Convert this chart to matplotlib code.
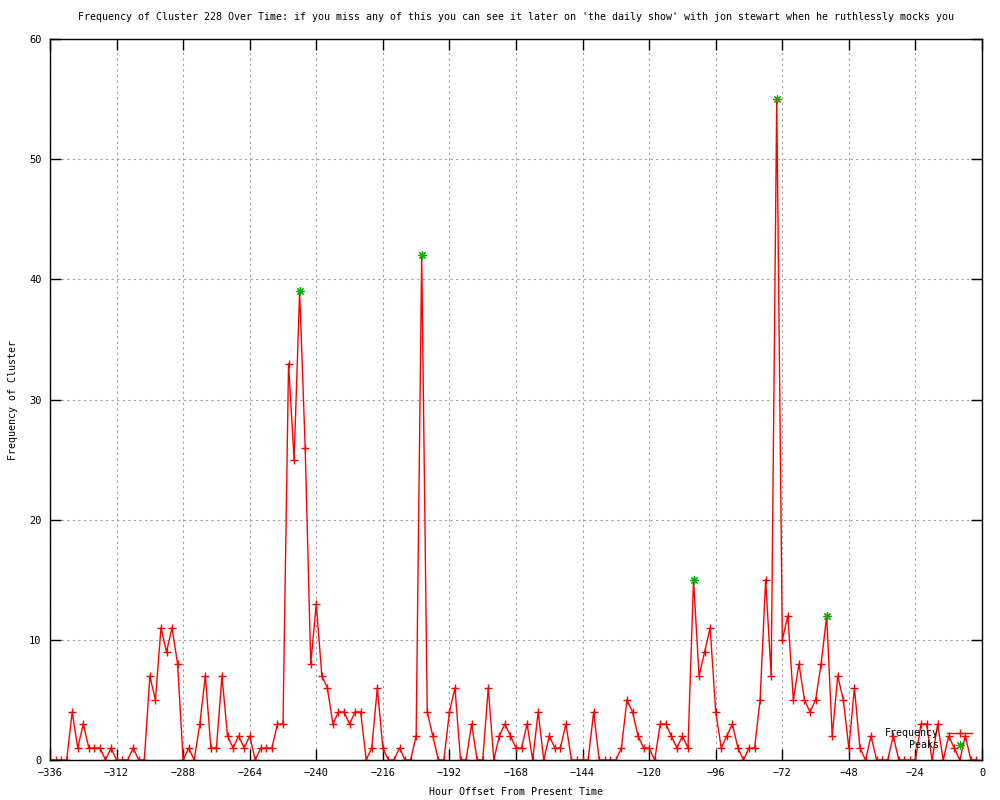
import numpy as np
import matplotlib
matplotlib.use("Agg")
import matplotlib.pyplot as plt

# hour offsets (every 2 hours) and counts
hours = list(range(-336, 0, 2))
freq = [0, 0, 0, 0, 4, 1, 3, 1, 1, 1, 0, 1, 0, 0, 0, 1, 0, 0,
        7, 5, 11, 9, 11, 8, 0, 1, 0, 3, 7, 1, 1, 7, 2, 1, 2, 1, 2, 0,
        1, 1, 1, 3, 3, 33, 25, 39, 26, 8, 13, 7, 6, 3, 4, 4, 3, 4, 4, 0,
        1, 6, 1, 0, 0, 1, 0, 0, 2, 42, 4, 2, 0, 0, 4, 6, 0, 0, 3, 0,
        0, 6, 0, 2, 3, 2, 1, 1, 3, 0, 4, 0, 2, 1, 1, 3, 0, 0, 0, 0,
        4, 0, 0, 0, 0, 1, 5, 4, 2, 1, 1, 0, 3, 3, 2, 1, 2, 1, 15, 7,
        9, 11, 4, 1, 2, 3, 1, 0, 1, 1, 5, 15, 7, 55, 10, 12, 5, 8, 5, 4,
        5, 8, 12, 2, 7, 5, 1, 6, 1, 0, 2, 0, 0, 0, 2, 0, 0, 0, 0, 3,
        3, 0, 3, 0, 2, 1, 0, 2, 0, 0]

peak_hours = [-246, -202, -104, -74, -56]
peak_vals = [39, 42, 15, 55, 12]

title = ("Frequency of Cluster 228 Over Time: if you miss any of this you can see it "
         "later on 'the daily show' with jon stewart when he ruthlessly mocks you")

plt.rcParams['font.family'] = ['DejaVu Sans Mono']
plt.rcParams['font.size'] = 7.2

fig = plt.figure(figsize=(10, 8), dpi=100)
ax = fig.add_axes([0.05, 0.05, 0.932, 0.901])

ax.plot(hours, freq, color='red', lw=1, marker='+', ms=6, mew=1,
        label='Frequency')
ax.plot(peak_hours, peak_vals, ls='none', color='#00b000', marker=(8, 2, 0),
        ms=6, mew=0.8, label='Peaks')

ax.set_xlim(-336, 0)
ax.set_ylim(0, 60)
ax.set_xticks(range(-336, 1, 24))
ax.set_yticks(range(0, 61, 10))
ax.tick_params(direction='in', length=8, width=1, top=True, right=True,
               labelsize=7.5, pad=6)
ax.grid(True, color='#a0a0a0', ls=(0, (2, 3)), lw=0.8)
for s in ax.spines.values():
    s.set_linewidth(1)

ax.set_title(title, fontsize=7.2, pad=14)
ax.set_xlabel('Hour Offset From Present Time', labelpad=6)
ax.set_ylabel('Frequency of Cluster', labelpad=8)

ax.legend(loc='lower right', frameon=False, markerfirst=False,
          handlelength=2.5, borderaxespad=0.6, labelspacing=0.2,
          fontsize=7.2, borderpad=0.4)

fig.savefig('out.png', dpi=100)
